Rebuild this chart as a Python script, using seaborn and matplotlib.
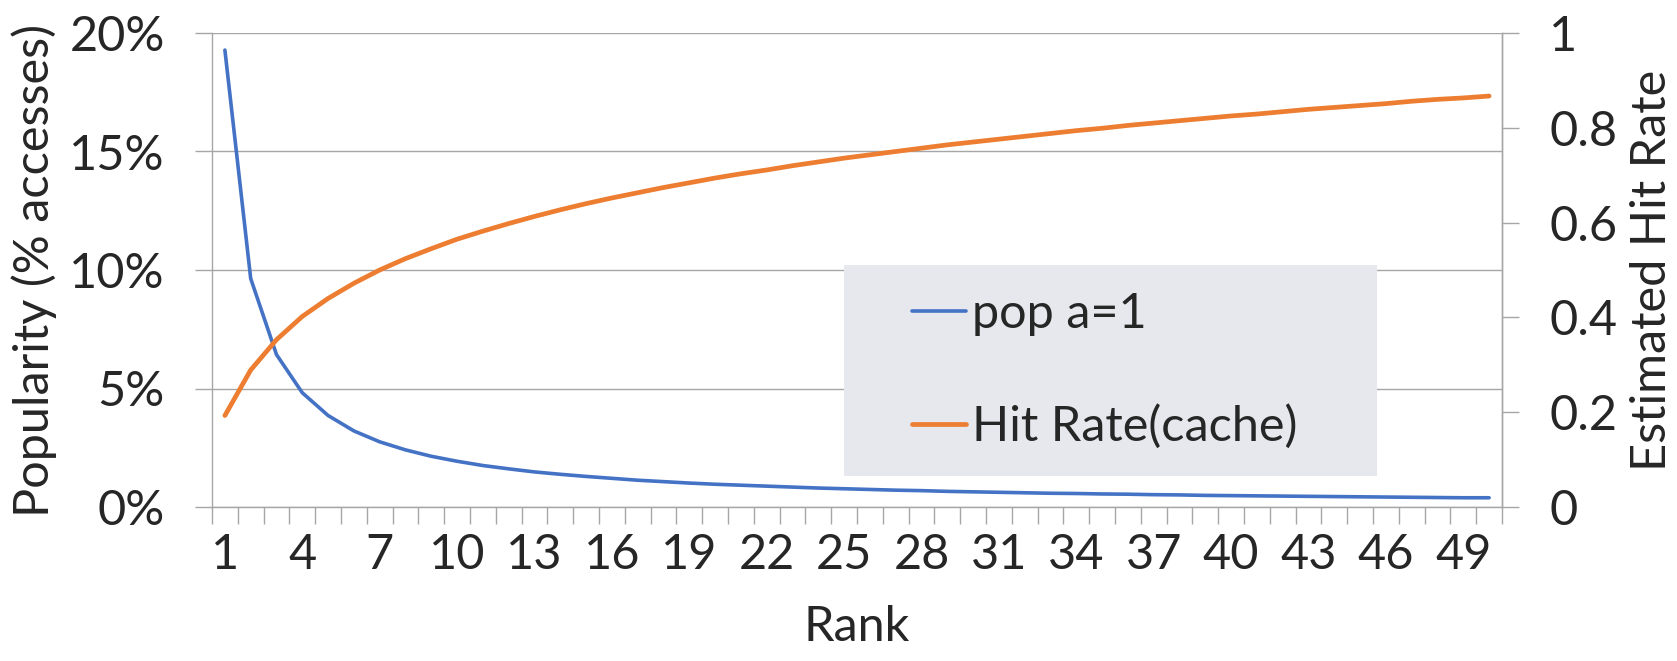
import matplotlib
matplotlib.use("Agg")
import matplotlib.pyplot as plt
from matplotlib.patches import Rectangle
import seaborn as sns
import pandas as pd

# Zipf popularity (a = 1) of the top 50 ranked objects, in % of accesses
rank = list(range(1, 51))
popularity = [
    19.28, 9.64, 6.43, 4.82, 3.86, 3.21, 2.75, 2.41, 2.14, 1.93,
    1.75, 1.61, 1.48, 1.38, 1.29, 1.21, 1.13, 1.07, 1.01, 0.96,
    0.92, 0.88, 0.84, 0.80, 0.77, 0.74, 0.71, 0.69, 0.66, 0.64,
    0.62, 0.60, 0.58, 0.57, 0.55, 0.54, 0.52, 0.51, 0.49, 0.48,
    0.47, 0.46, 0.45, 0.44, 0.43, 0.42, 0.41, 0.40, 0.39, 0.39,
]
# Estimated hit rate when caching the top-k objects
hit_rate = [
    0.193, 0.289, 0.353, 0.402, 0.440, 0.472, 0.500, 0.524, 0.545, 0.565,
    0.582, 0.598, 0.613, 0.627, 0.640, 0.652, 0.663, 0.674, 0.684, 0.694,
    0.703, 0.711, 0.720, 0.728, 0.736, 0.743, 0.750, 0.757, 0.764, 0.770,
    0.776, 0.782, 0.788, 0.794, 0.799, 0.805, 0.810, 0.815, 0.820, 0.825,
    0.829, 0.834, 0.839, 0.843, 0.847, 0.851, 0.856, 0.860, 0.863, 0.867,
]
pop_ticks = [0, 5, 10, 15, 20]
hit_ticks = [0, 0.2, 0.4, 0.6, 0.8, 1.0]
hit_tick_labels = ["0", "0.2", "0.4", "0.6", "0.8", "1"]
rank_labels_every = 3

df = pd.DataFrame({"pos": range(len(rank)), "rank": rank,
                   "popularity": popularity, "hit_rate": hit_rate})

sns.set_theme(style="white")
plt.rcParams["font.family"] = ["Lato", "DejaVu Sans"]

FS = 35
GRID = "#A6A6A6"
BLUE = "#4472C4"
ORANGE = "#ED7D31"

fig = plt.figure(figsize=(16.77, 6.61), dpi=100)
ax = fig.add_axes([212 / 1677, 1 - 507 / 661, 1290 / 1677, 474 / 661])
ax2 = ax.twinx()

sns.lineplot(data=df, x="pos", y="popularity", ax=ax, color=BLUE,
             linewidth=2.6, label="pop a=1", legend=False,
             solid_capstyle="round")
sns.lineplot(data=df, x="pos", y="hit_rate", ax=ax2, color=ORANGE,
             linewidth=3.4, label="Hit Rate(cache)", legend=False,
             solid_capstyle="round")

# left axis: popularity
ax.set_ylim(0, 20)
ax.set_yticks(pop_ticks)
ax.set_yticklabels([f"{v}%" for v in pop_ticks])
ax.yaxis.grid(True, color=GRID, linewidth=1.0)
ax.set_axisbelow(True)

# category-style x axis
ax.set_xlim(-0.5, len(rank) - 0.5)
major = list(range(0, len(rank), rank_labels_every))
ax.set_xticks(major)
ax.set_xticklabels([str(rank[i]) for i in major])
ax.set_xticks([i - 0.5 for i in range(len(rank) + 1)], minor=True)
ax.tick_params(axis="x", which="major", length=0, pad=19, labelsize=FS)
ax.tick_params(axis="x", which="minor", length=12, width=1.0,
               color=GRID, direction="out", bottom=True)
ax.tick_params(axis="y", length=12, width=1.0, color=GRID,
               direction="out", left=True, pad=22, labelsize=FS)

# right axis: hit rate
ax2.set_ylim(0, 1)
ax2.set_yticks(hit_ticks)
ax2.set_yticklabels(hit_tick_labels)
ax2.tick_params(axis="y", length=12, width=1.0, color=GRID,
                direction="out", right=True, pad=22, labelsize=FS)
ax2.grid(False)

for a in (ax, ax2):
    a.spines["top"].set_visible(False)
    for side in ("left", "bottom", "right"):
        a.spines[side].set_color(GRID)
        a.spines[side].set_linewidth(1.0)
ax2.spines["left"].set_visible(False)
ax2.spines["bottom"].set_visible(False)

ax.set_xlabel("Rank", fontsize=FS, labelpad=20)
ax.set_ylabel("Popularity (% accesses)", fontsize=FS, labelpad=9)
ax2.set_ylabel("Estimated Hit Rate", fontsize=FS, labelpad=9)

# legend panel
ax.add_patch(Rectangle((0.490, 0.065), 0.413, 0.446, transform=ax.transAxes,
                       facecolor="#E6E8ED", edgecolor="none", zorder=1))
h1, l1 = ax.get_legend_handles_labels()
h2, l2 = ax2.get_legend_handles_labels()
ax2.legend(h1 + h2, l1 + l2, loc="center left", bbox_to_anchor=(0.543, 0.288),
           frameon=False, fontsize=FS, handlelength=1.1, handletextpad=0.12,
           labelspacing=1.4, borderpad=0, borderaxespad=0)

fig.savefig("out.png", dpi=100)
